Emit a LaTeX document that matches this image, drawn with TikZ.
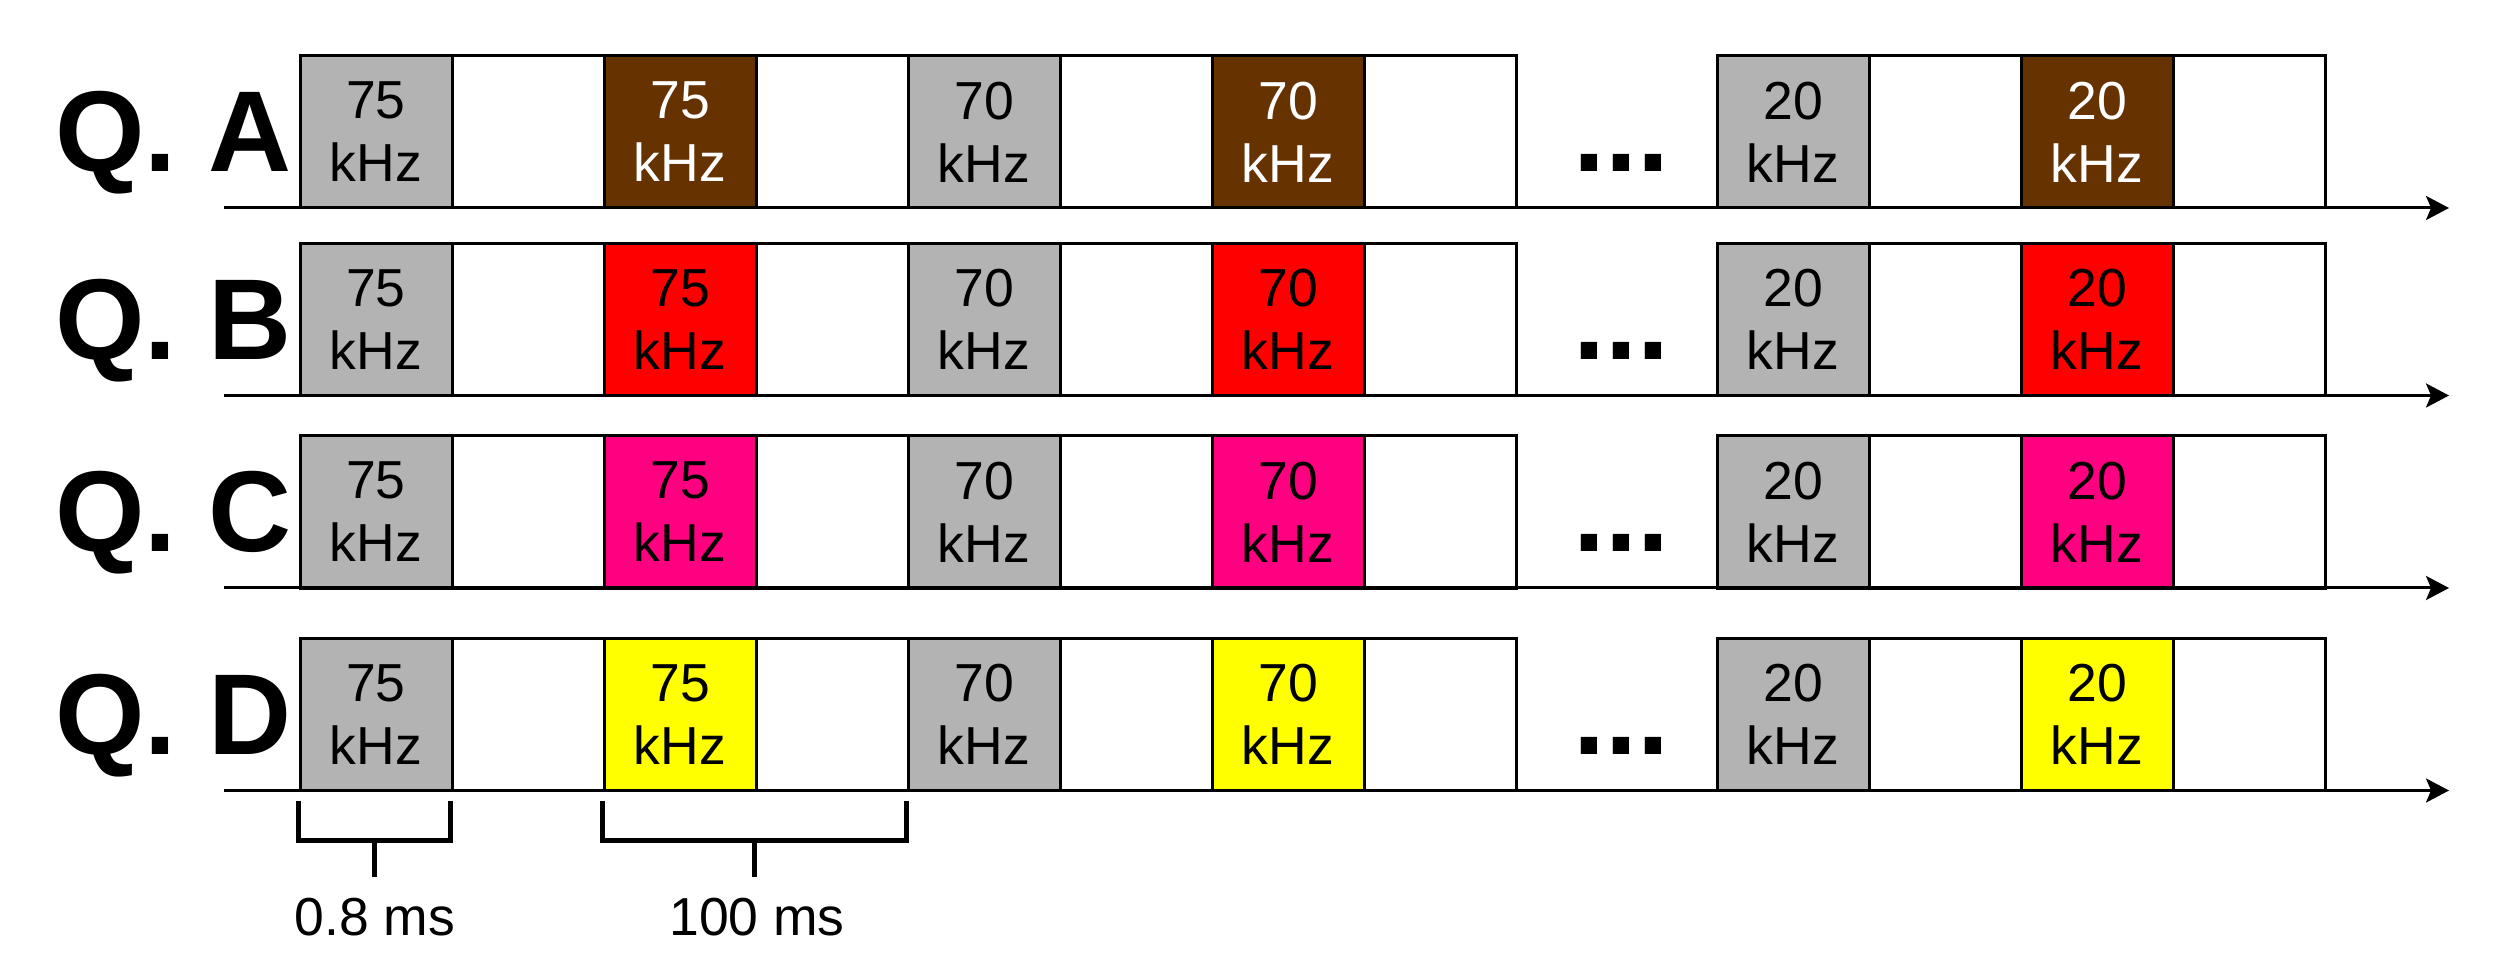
\documentclass[tikz,border=0pt]{standalone}
\usepackage{fontspec}
\setmainfont{Liberation Sans}
\usetikzlibrary{arrows.meta}
\definecolor{cgray}{HTML}{B3B3B3}
\definecolor{cbrown}{HTML}{663300}
\definecolor{cred}{HTML}{FF0000}
\definecolor{cpink}{HTML}{FF0080}
\definecolor{cyellow}{HTML}{FFFF00}
\begin{document}
\begin{tikzpicture}[x=0.4pt,y=-0.4pt,
  cell/.style={draw=black, line width=1.2pt, minimum width=60.8pt, minimum height=60.8pt,
    inner sep=0pt, outer sep=0pt, align=center, font=\fontsize{21.4}{25.2}\selectfont},
  qlabel/.style={anchor=base west, inner sep=0pt, font=\bfseries\fontsize{46}{46}\selectfont},
  dotsnode/.style={anchor=base, inner sep=0pt, font=\bfseries\fontsize{46}{46}\selectfont},
  axisline/.style={line width=1.2pt, -{Stealth[length=9.2pt,width=9.6pt,inset=2pt]}},
  bracket/.style={line width=2pt},
  dimtext/.style={anchor=base, inner sep=0pt, font=\fontsize{21.4}{25.2}\selectfont}]
\useasboundingbox (0,0) rectangle (2504,977);
\fill[white] (0,0) rectangle (2504,977);

\foreach \r/\yc/\col/\tc in {A/132/cbrown/white, B/319.5/cred/black, C/512/cpink/black, D/714.5/cyellow/black}{
  % group 1
  \node[cell, fill=cgray] (\r-1) at (376,\yc) {75\\kHz};
  \node[cell, fill=white] (\r-2) at (528,\yc) {};
  \node[cell, fill=\col, text=\tc] (\r-3) at (680,\yc) {75\\kHz};
  \node[cell, fill=white] (\r-4) at (832,\yc) {};
  \node[cell, fill=cgray] (\r-5) at (984,\yc) {70\\kHz};
  \node[cell, fill=white] (\r-6) at (1136,\yc) {};
  \node[cell, fill=\col, text=\tc] (\r-7) at (1288,\yc) {70\\kHz};
  \node[cell, fill=white] (\r-8) at (1440,\yc) {};
  % group 2
  \node[cell, fill=cgray] (\r-9) at (1793,\yc) {20\\kHz};
  \node[cell, fill=white] (\r-10) at (1945,\yc) {};
  \node[cell, fill=\col, text=\tc] (\r-11) at (2097,\yc) {20\\kHz};
  \node[cell, fill=white] (\r-12) at (2249,\yc) {};
  % axis
  \coordinate (\r-s) at (224,{\yc+76});
  \coordinate (\r-e) at (2449,{\yc+76});
  \draw[axisline] (\r-s) -- (\r-e);
  % label and dots
  \node[qlabel] (\r-lab) at (55,{\yc+40}) {Q. \r};
  \node[dotsnode] (\r-dots) at (1621.5,{\yc+40}) {...};
}

% brackets
\coordinate (b1a) at (298,801);
\coordinate (b1b) at (298,840);
\coordinate (b1c) at (450,840);
\coordinate (b1d) at (450,801);
\coordinate (b1m) at (374,840);
\coordinate (b1n) at (374,877);
\draw[bracket] (b1a) -- (b1b) -- (b1c) -- (b1d);
\draw[bracket] (b1m) -- (b1n);
\node[dimtext] (t1) at (375,935) {0.8 ms};

\coordinate (b2a) at (602,801);
\coordinate (b2b) at (602,840);
\coordinate (b2c) at (906,840);
\coordinate (b2d) at (906,801);
\coordinate (b2m) at (754,840);
\coordinate (b2n) at (754,877);
\draw[bracket] (b2a) -- (b2b) -- (b2c) -- (b2d);
\draw[bracket] (b2m) -- (b2n);
\node[dimtext] (t2) at (757,935) {100 ms};
\end{tikzpicture}
\end{document}
